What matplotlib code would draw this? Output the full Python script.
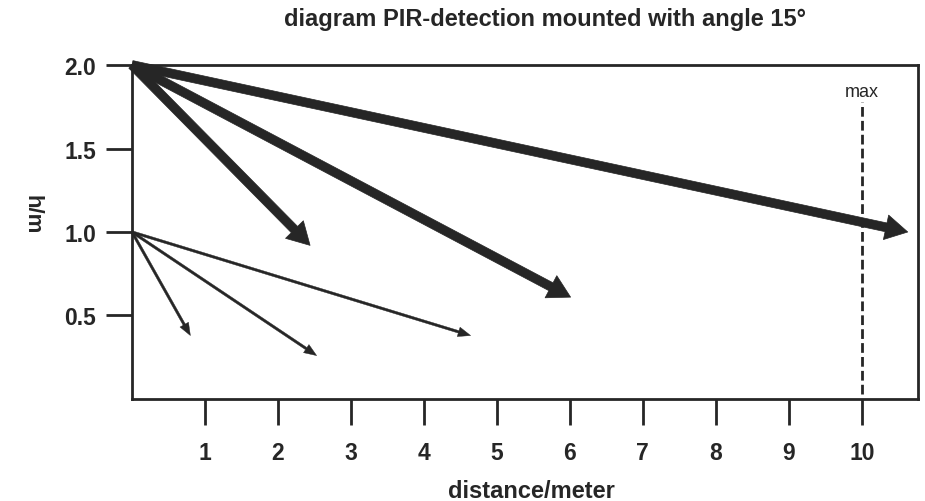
import matplotlib.pyplot as plt

# dados
thick_start = (0.0, 2.0)
thick_x = [2.44, 6.01, 10.63]
thick_y = [0.92, 0.61, 1.00]

thin_start = (0.0, 1.0)
thin_x = [0.80, 2.53, 4.64]
thin_y = [0.38, 0.26, 0.38]

max_x = 10
x_ticks = [1, 2, 3, 4, 5, 6, 7, 8, 9, 10]
y_ticks = [0.5, 1.0, 1.5, 2.0]

cor = '#262626'
plt.rcParams['font.family'] = ['Liberation Sans', 'DejaVu Sans']

fig = plt.figure(figsize=(9.25, 5.02), dpi=100)
ax = fig.add_axes([0.1427, 0.2032, 0.8497, 0.6653])
ax.set_xlim(0, 10.77)
ax.set_ylim(0, 2.0)

# setas grossas (montagem a 2 m)
for x, y in zip(thick_x, thick_y):
    ax.annotate('', xy=(x, y), xytext=thick_start,
                arrowprops=dict(arrowstyle='simple,head_length=0.8,head_width=0.9,tail_width=0.32',
                                mutation_scale=20, fc=cor, ec=cor, lw=0.5,
                                shrinkA=0, shrinkB=0))

# setas finas (montagem a 1 m)
for x, y in zip(thin_x, thin_y):
    ax.annotate('', xy=(x, y), xytext=thin_start,
                arrowprops=dict(arrowstyle='simple,head_length=0.9,head_width=0.7,tail_width=0.18',
                                mutation_scale=10, fc=cor, ec=cor, lw=0.3,
                                shrinkA=0, shrinkB=0))

# linha do alcance maximo
ax.vlines(max_x, 0.03, 1.78, colors=cor, lw=2, linestyles=(0, (3.5, 1.5)))
ax.text(max_x, 1.84, 'max', ha='center', va='center', fontsize=13, color=cor)

ax.set_xticks(x_ticks)
ax.set_xticklabels([str(t) for t in x_ticks])
ax.set_yticks(y_ticks)
ax.set_yticklabels(['%.1f' % t for t in y_ticks])
ax.tick_params(direction='out', length=19, width=2, color=cor, labelsize=16.5,
               labelcolor=cor)
ax.tick_params(axis='x', pad=11)
ax.tick_params(axis='y', pad=7)
for lab in ax.get_xticklabels() + ax.get_yticklabels():
    lab.set_fontweight('bold')
for s in ax.spines.values():
    s.set_linewidth(2)
    s.set_color(cor)

fig.text(0.575, 0.02, 'distance/meter', ha='center', va='center',
         fontsize=17, fontweight='bold', color=cor)
fig.text(0.035, 0.572, 'h/m', ha='center', va='center', rotation=270,
         fontsize=16, fontweight='bold', color=cor)
fig.text(0.589, 0.962, 'diagram PIR-detection mounted with angle 15°', ha='center',
         va='center', fontsize=17, fontweight='bold', color=cor)

fig.savefig('out.png', dpi=100)
